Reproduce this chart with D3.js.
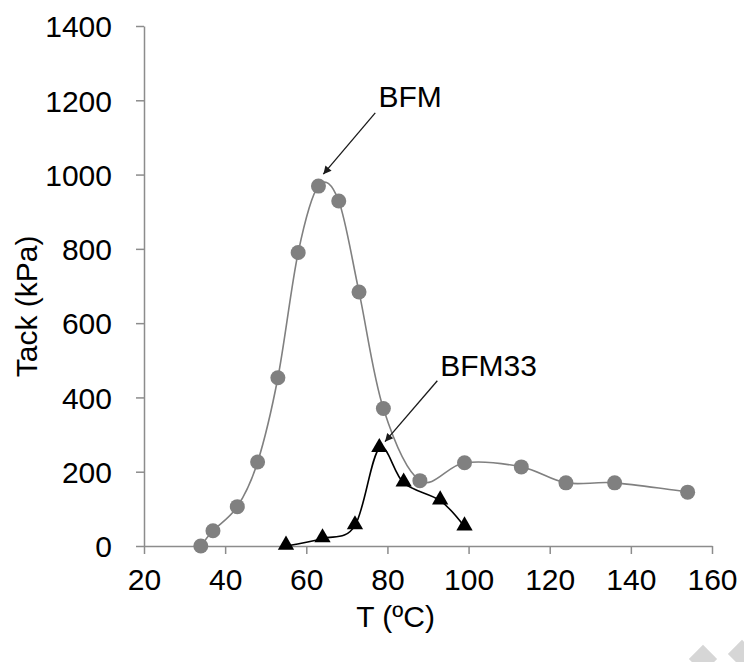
<!DOCTYPE html>
<html>
<head>
<meta charset="utf-8">
<script src="https://cdn.jsdelivr.net/npm/d3@7"></script>
<style>
    body { margin: 0; background: #fff; }
    svg { display: block; font-family: "Liberation Sans", Arial, sans-serif; }
</style>
</head>
<body>
<div id="plot"></div>
<script>
// BFM series (grey circles)
const bfmT = [34, 37, 43, 48, 53, 58, 63, 68, 73, 79, 88, 99, 113, 124, 136, 154];
const bfmTack = [0, 41, 106, 226, 453, 790, 969, 929, 684, 370, 176, 224, 213, 170, 170, 145];

// BFM33 series (black triangles)
const bfm33T = [55, 64, 72, 78, 84, 93, 99];
const bfm33Tack = [0, 20, 55, 263, 170, 122, 52];

const xTicks = [20, 40, 60, 80, 100, 120, 140, 160];
const yTicks = [0, 200, 400, 600, 800, 1000, 1200, 1400];

// callouts: label anchor and arrow start/tip, in data units
const callouts = [
    {text: 'BFM', labelT: 77.8, labelTack: 1182, fromT: 77.0, fromTack: 1166, tipT: 64.2, tipTack: 1001},
    {text: 'BFM33', labelT: 93.0, labelTack: 457, fromT: 92.3, fromTack: 445, tipT: 79.4, tipTack: 281}
];

const W = 744, H = 662;
const margin = {top: 26, right: 32, bottom: 116, left: 144};
const width = W - margin.left - margin.right;
const height = H - margin.top - margin.bottom;

const svg = d3.select('#plot').append('svg')
    .attr('width', W)
    .attr('height', H);

svg.append('defs').append('marker')
    .attr('id', 'arrow')
    .attr('viewBox', '0 0 10 10')
    .attr('refX', 10)
    .attr('refY', 5)
    .attr('markerWidth', 11)
    .attr('markerHeight', 8)
    .attr('markerUnits', 'userSpaceOnUse')
    .attr('orient', 'auto')
    .append('path')
    .attr('d', 'M0,0 L10,5 L0,10 z')
    .attr('fill', '#1a1a1a');

const g = svg.append('g').attr('transform', 'translate(' + margin.left + ',' + margin.top + ')');

const x = d3.scaleLinear().domain([20, 160]).range([0, width]);
const y = d3.scaleLinear().domain([0, 1400]).range([height, 0]);

// axes
const xAxis = g.append('g')
    .attr('transform', 'translate(0,' + height + ')')
    .call(d3.axisBottom(x).tickValues(xTicks).tickFormat(d3.format('d'))
        .tickSizeInner(8).tickSizeOuter(0).tickPadding(15));
const yAxis = g.append('g')
    .call(d3.axisLeft(y).tickValues(yTicks).tickFormat(d3.format('d'))
        .tickSizeInner(8).tickSizeOuter(0).tickPadding(24));

[xAxis, yAxis].forEach(a => {
    a.select('.domain').attr('stroke', '#8c8c8c').attr('stroke-width', 1.5);
    a.selectAll('.tick line').attr('stroke', '#8c8c8c').attr('stroke-width', 1.5);
    a.selectAll('.tick text')
        .attr('fill', '#000')
        .style('font-size', '30px')
        .style('font-family', '"Liberation Sans", Arial, sans-serif');
});
yAxis.selectAll('.tick text').attr('dy', '0.36em');

// axis titles
svg.append('text')
    .attr('x', margin.left + x(82))
    .attr('y', 627)
    .attr('text-anchor', 'middle')
    .style('font-size', '30px')
    .text('T (ºC)');

svg.append('text')
    .attr('transform', 'translate(37,' + (margin.top + y(645)) + ') rotate(-90)')
    .attr('text-anchor', 'middle')
    .style('font-size', '30px')
    .text('Tack (kPa)');

// smoothed lines
const line = d3.line()
    .x(d => x(d[0]))
    .y(d => y(d[1]))
    .curve(d3.curveCatmullRom.alpha(0));

const bfm = bfmT.map((t, i) => [t, bfmTack[i]]);
const bfm33 = bfm33T.map((t, i) => [t, bfm33Tack[i]]);

g.append('path')
    .datum(bfm)
    .attr('fill', 'none')
    .attr('stroke', '#808080')
    .attr('stroke-width', 1.6)
    .attr('d', line);

g.append('path')
    .datum(bfm33)
    .attr('fill', 'none')
    .attr('stroke', '#000')
    .attr('stroke-width', 1.6)
    .attr('d', line);

g.selectAll('.bfm-pt')
    .data(bfm)
    .enter().append('circle')
    .attr('class', 'bfm-pt')
    .attr('cx', d => x(d[0]))
    .attr('cy', d => y(d[1]))
    .attr('r', 7.5)
    .attr('fill', '#808080');

const tri = d3.symbol().type(d3.symbolTriangle).size(115);
g.selectAll('.bfm33-pt')
    .data(bfm33)
    .enter().append('path')
    .attr('class', 'bfm33-pt')
    .attr('transform', d => 'translate(' + x(d[0]) + ',' + (y(d[1]) - 1) + ')')
    .attr('d', tri)
    .attr('fill', '#000');

// callouts
callouts.forEach(c => {
    g.append('line')
        .attr('x1', x(c.fromT)).attr('y1', y(c.fromTack))
        .attr('x2', x(c.tipT)).attr('y2', y(c.tipTack))
        .attr('stroke', '#1a1a1a')
        .attr('stroke-width', 1.3)
        .attr('marker-end', 'url(#arrow)');
    g.append('text')
        .attr('x', x(c.labelT))
        .attr('y', y(c.labelTack))
        .style('font-size', '30px')
        .text(c.text);
});

// faint watermark diamonds in the corner
svg.selectAll('.mark')
    .data([[703, 659], [742, 654]])
    .enter().append('rect')
    .attr('x', -10).attr('y', -10)
    .attr('width', 20).attr('height', 20)
    .attr('transform', d => 'translate(' + d[0] + ',' + d[1] + ') rotate(45)')
    .attr('fill', '#d6d6d6');
</script>
</body>
</html>
